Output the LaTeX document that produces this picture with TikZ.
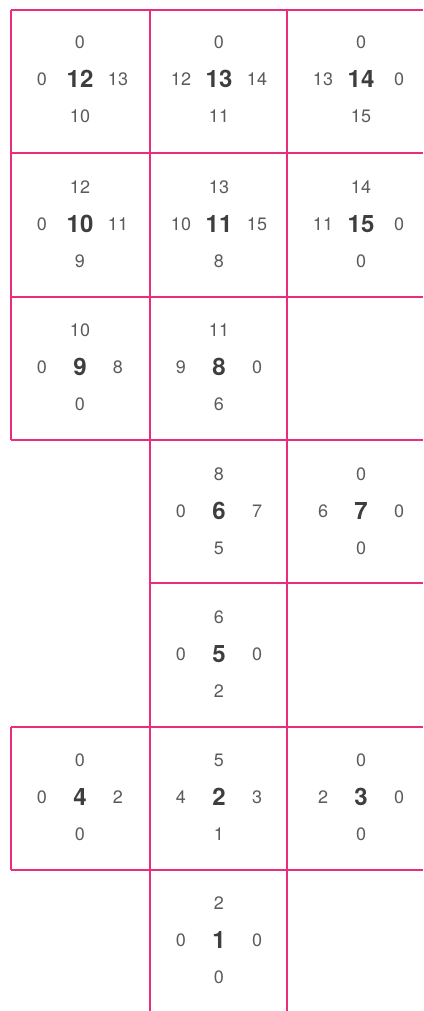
\documentclass[tikz,border=0pt]{standalone}
\usepackage{fontspec}
\setmainfont{TeX Gyre Heros}
\usetikzlibrary{positioning}
\definecolor{gridPink}{RGB}{234,44,124}
\definecolor{numGray}{RGB}{62,62,62}
\tikzset{
  gridline/.style={draw=gridPink,line width=2pt},
  bignum/.style={inner sep=0pt,text=numGray,font=\bfseries\fontsize{24}{26}\selectfont},
  smallnum/.style={inner sep=0pt,text=numGray!85,font=\fontsize{18}{20}\selectfont},
}
% #1 x, #2 y, #3 centre, #4 top, #5 left, #6 right, #7 bottom
\newcommand{\cellnums}[7]{%
  \node[bignum] (n#3) at (#1,#2) {#3};
  \node[smallnum,above=37pt of n#3] (n#3t) {#4};
  \node[smallnum,left=38pt of n#3] (n#3l) {#5};
  \node[smallnum,right=38pt of n#3] (n#3r) {#6};
  \node[smallnum,below=37pt of n#3] (n#3b) {#7};
}

\begin{document}
\begin{tikzpicture}[x=1pt,y=-1pt,on grid]
\useasboundingbox (0,0) rectangle (423,1011);

% grid
\draw[gridline] (11,10) -- (423,10);
\draw[gridline] (11,153) -- (423,153);
\draw[gridline] (11,297) -- (423,297);
\draw[gridline] (11,440) -- (423,440);
\draw[gridline] (150,583) -- (423,583);
\draw[gridline] (11,727) -- (423,727);
\draw[gridline] (11,870) -- (423,870);
\draw[gridline] (11,10) -- (11,440);
\draw[gridline] (11,727) -- (11,870);
\draw[gridline] (150,10) -- (150,1011);
\draw[gridline] (287,10) -- (287,1011);

% cells
\cellnums{80}{79}{12}{0}{0}{13}{10}
\cellnums{219}{79}{13}{0}{12}{14}{11}
\cellnums{361}{79}{14}{0}{13}{0}{15}

\cellnums{80}{224}{10}{12}{0}{11}{9}
\cellnums{219}{224}{11}{13}{10}{15}{8}
\cellnums{361}{224}{15}{14}{11}{0}{0}

\cellnums{80}{367}{9}{10}{0}{8}{0}
\cellnums{219}{367}{8}{11}{9}{0}{6}

\cellnums{219}{511}{6}{8}{0}{7}{5}
\cellnums{361}{511}{7}{0}{6}{0}{0}

\cellnums{219}{654}{5}{6}{0}{0}{2}

\cellnums{80}{797}{4}{0}{0}{2}{0}
\cellnums{219}{797}{2}{5}{4}{3}{1}
\cellnums{361}{797}{3}{0}{2}{0}{0}

\cellnums{219}{940}{1}{2}{0}{0}{0}

\end{tikzpicture}
\end{document}
